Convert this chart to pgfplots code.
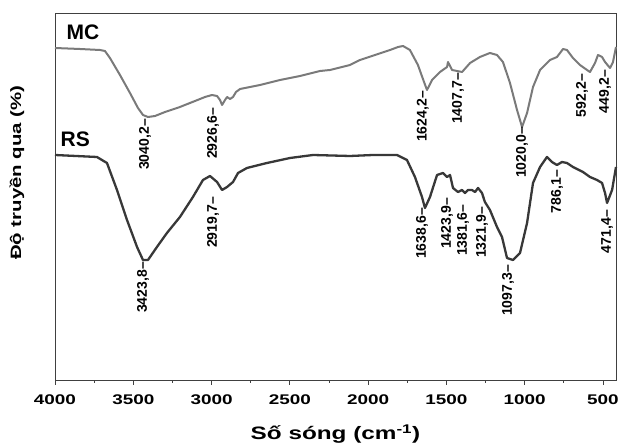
\documentclass[border=0pt]{standalone}
\usepackage{fontspec}
\setmainfont{Liberation Sans}
\newfontfamily\widebf{Liberation Sans Bold}[FakeStretch=1.35]
\newfontfamily\ylabf{Liberation Sans Bold}[FakeStretch=1.36]
\newfontfamily\boldf{Liberation Sans Bold}
\usepackage{pgfplots}
\pgfplotsset{compat=1.18}
\definecolor{mcgray}{HTML}{7A7A7A}
\definecolor{rsgray}{HTML}{383838}
\begin{document}
\begin{tikzpicture}
\useasboundingbox (-55pt,-63pt) rectangle (564pt,380pt);
\begin{axis}[
 at={(0pt,0pt)}, anchor=south west,
 scale only axis, width=561pt, height=367pt,
 x dir=reverse, xmin=417, xmax=4000, ymin=0, ymax=367,
 xtick={500,1000,...,4000}, minor x tick num=1,
 ytick=\empty, xtick pos=bottom, tick align=outside,
 major tick length=5pt, minor tick length=3pt,
 /pgf/number format/1000 sep={}, /pgf/number format/assume math mode=true,
 xticklabel style={font=\widebf\fontsize{14}{14}\selectfont, anchor=north, yshift=-6pt},
 axis line style={black!75, line width=0.8pt},
 tick style={black!75, line width=0.8pt},
 xlabel={Số sóng (cm\textsuperscript{-1})},
 xlabel style={font=\widebf\fontsize{18}{18}\selectfont, at={(axis description cs:0.5,-0.1635)}, anchor=base},
 ylabel={Độ truyền qua (\%)},
 ylabel style={font=\ylabf\fontsize{15}{15}\selectfont, at={(axis description cs:-0.0677,0.565)}, anchor=center},
 clip=false,
]
\addplot[mcgray, line width=2pt, line join=round] coordinates {
(4000,332) (3840,331) (3713,330) (3681,329) (3649,322) (3585,305) (3521,287) (3470,272)
(3438,265) (3406,263) (3361,264) (3297,268) (3202,273) (3106,279) (3042,283) (2997,285)
(2965,284) (2946,280) (2933,275) (2914,280) (2901,283) (2882,281) (2863,283) (2844,288)
(2818,291) (2691,295) (2563,300) (2435,304) (2307,309) (2244,310) (2116,315) (2052,320)
(1956,325) (1860,330) (1809,333) (1777,334) (1733,330) (1682,315) (1643,298) (1624,290)
(1592,300) (1541,308) (1496,313) (1490,318) (1464,310) (1400,308) (1349,317) (1286,323)
(1222,327) (1177,325) (1139,318) (1094,297) (1049,270) (1017,253) (985,267) (947,293)
(902,310) (838,320) (794,323) (755,331) (730,330) (692,322) (647,315) (602,310)
(583,308) (551,317) (532,325) (506,323) (487,318) (455,312) (436,318) (417,333)
};
\addplot[rsgray, line width=2.3pt, line join=round] coordinates {
(4000,225) (3732,223) (3668,217) (3604,190) (3540,160) (3476,133) (3438,120) (3406,120)
(3349,133) (3285,147) (3202,163) (3119,183) (3055,200) (3010,204) (2965,198) (2933,190)
(2901,193) (2863,198) (2831,207) (2774,212) (2646,217) (2499,222) (2352,225) (2116,224)
(1969,225) (1816,225) (1752,220) (1701,203) (1656,183) (1637,172) (1605,183) (1560,205)
(1522,207) (1496,203) (1477,205) (1458,192) (1426,188) (1400,190) (1381,187) (1362,190)
(1337,190) (1317,188) (1298,192) (1273,187) (1254,178) (1222,170) (1177,153) (1145,143)
(1113,122) (1075,120) (1030,127) (985,157) (947,197) (902,213) (858,223) (826,218)
(794,215) (762,218) (730,217) (692,213) (628,208) (583,203) (538,200) (506,197)
(487,187) (474,177) (442,190) (417,213)
};
\tikzset{pk/.style={rotate=90, anchor=east, inner sep=0pt, font=\boldf\fontsize{14}{14}\selectfont}}
\node[pk] at (axis cs:3425,261) {3040,2–};
\node[pk] at (axis cs:2991,272) {2926,6–};
\node[pk] at (axis cs:1650,289) {1624,2–};
\node[pk] at (axis cs:1426,307) {1407,7–};
\node[pk] at (axis cs:1017,253) {1020,0–};
\node[pk] at (axis cs:634,306) {592,2–};
\node[pk] at (axis cs:487,310) {449,2–};
\node[pk] at (axis cs:3438,118) {3423,8–};
\node[pk] at (axis cs:2991,183) {2919,7–};
\node[pk] at (axis cs:1656,172) {1638,6–};
\node[pk] at (axis cs:1496,182) {1423,9–};
\node[pk] at (axis cs:1394,175) {1381,6–};
\node[pk] at (axis cs:1273,173) {1321,9–};
\node[pk] at (axis cs:1107,115) {1097,3–};
\node[pk] at (axis cs:794,210) {786,1–};
\node[pk] at (axis cs:474,170) {471,4–};
\node[font=\boldf\fontsize{21}{21}\selectfont] at (rel axis cs:0.05,0.948) {MC};
\node[font=\boldf\fontsize{21}{21}\selectfont] at (rel axis cs:0.036,0.657) {RS};
\end{axis}
\end{tikzpicture}
\end{document}
